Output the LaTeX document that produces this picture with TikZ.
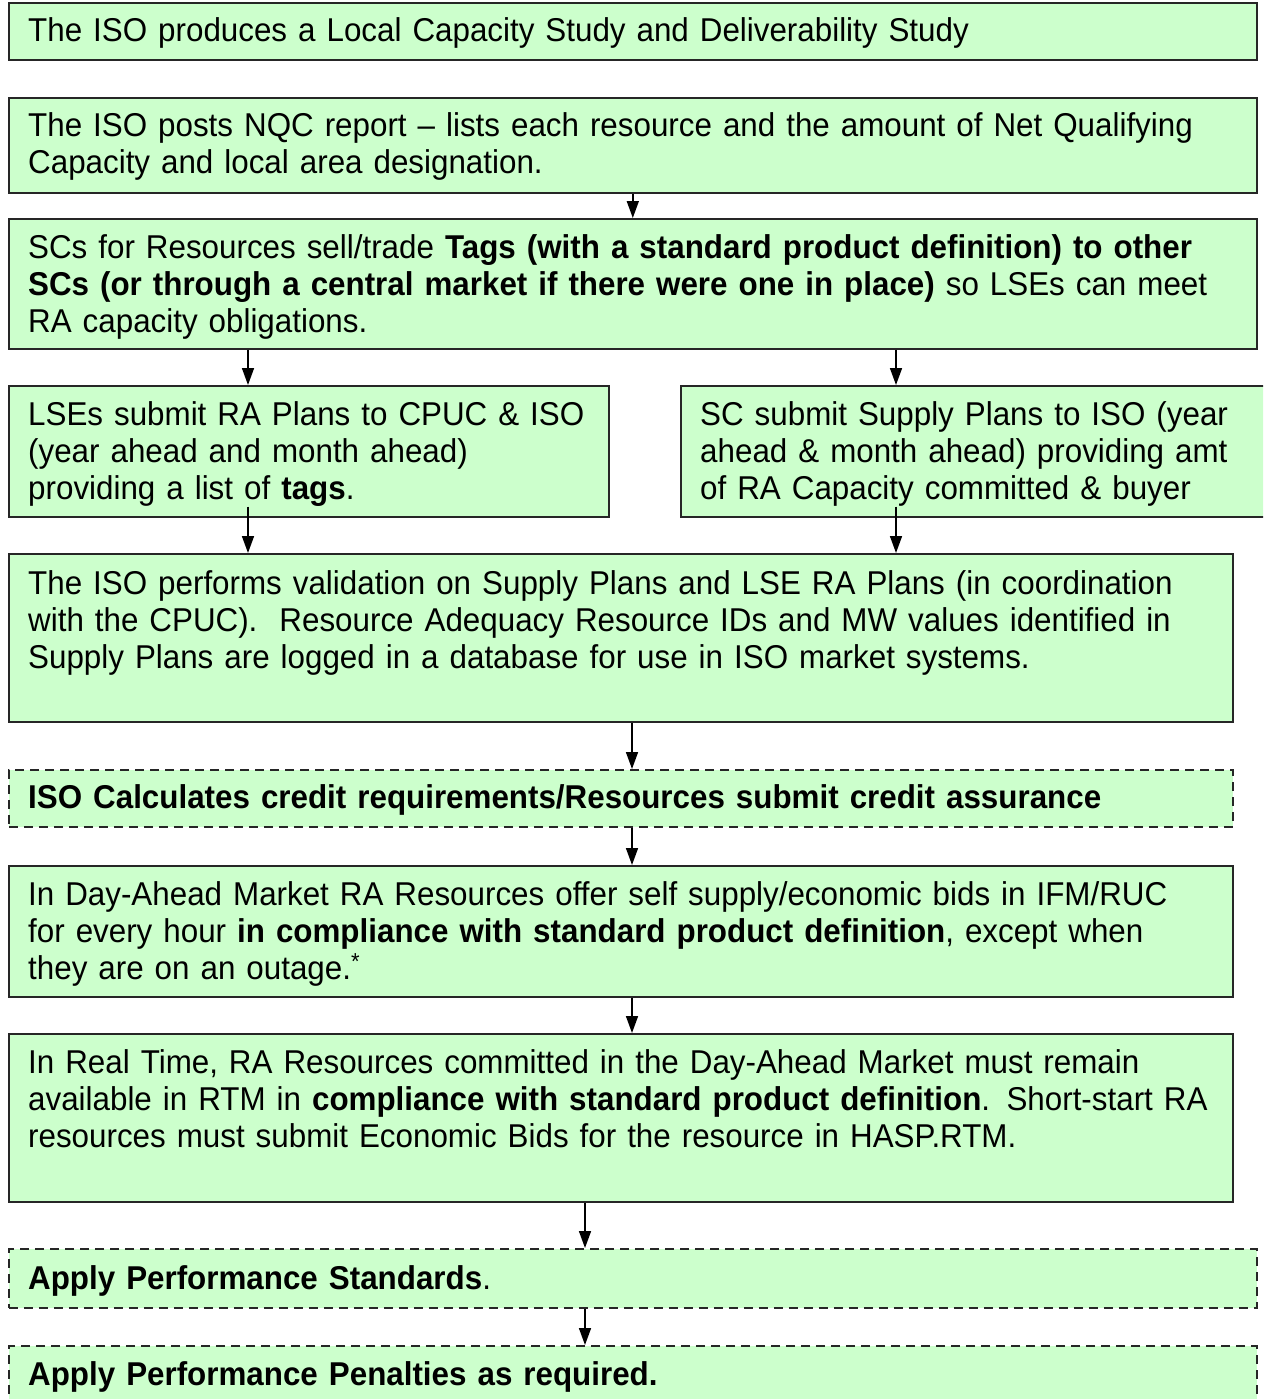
\documentclass[tikz,border=0pt]{standalone}
\usepackage{fontspec}
\setmainfont{Liberation Sans}[FakeStretch=0.95]
\usetikzlibrary{arrows.meta,positioning}
\definecolor{boxgreen}{RGB}{204,255,204}
\tikzset{
  stepbox/.style={draw=black!85, fill=boxgreen, line width=1.6pt, inner sep=0pt, anchor=north west},
  creditbox/.style={stepbox, dash pattern=on 9pt off 6pt},
  steptext/.style={anchor=base west, inner sep=0pt, text width=1300pt, align=left, font=\fontsize{33}{37}\selectfont},
  flow/.style={line width=1.6pt, -{Triangle[length=17pt,width=12pt]}}
}

\begin{document}
\begin{tikzpicture}[x=1pt,y=-1pt]
\useasboundingbox (0,0) rectangle (1263,1399);
\clip (0,0) rectangle (1263,1399);

% boxes
\node[stepbox, minimum width=1248pt, minimum height=57pt] (study) at (8,2) {};
\node[stepbox, minimum width=1248pt, minimum height=95pt] (nqc) at (8,97) {};
\node[stepbox, minimum width=1248pt, minimum height=130pt] (tags) at (8,218) {};
\node[stepbox, minimum width=600pt, minimum height=131pt] (lse) at (8,385) {};
\node[stepbox, minimum width=600pt, minimum height=131pt] (supply) at (680,385) {};
\node[stepbox, minimum width=1224pt, minimum height=168pt] (valid) at (8,553) {};
\node[creditbox, minimum width=1224pt, minimum height=57pt] (credit) at (8,769) {};
\node[stepbox, minimum width=1224pt, minimum height=131pt] (dam) at (8,865) {};
\node[stepbox, minimum width=1224pt, minimum height=168pt] (rtm) at (8,1033) {};
\node[creditbox, minimum width=1248pt, minimum height=59pt] (perf) at (8,1248) {};
\node[creditbox, minimum width=1248pt, minimum height=90pt] (penalty) at (8,1345) {};

% texts
\node[steptext] (study-t) at ([xshift=20pt,yshift=-40pt]study.north west)
  {The ISO produces a Local Capacity Study and Deliverability Study};
\node[steptext] (nqc-t) at ([xshift=20pt,yshift=-40pt]nqc.north west)
  {The ISO posts NQC report -- lists each resource and the amount of Net Qualifying\\
   Capacity and local area designation.};
\node[steptext] (tags-t) at ([xshift=20pt,yshift=-40pt]tags.north west)
  {SCs for Resources sell/trade \textbf{Tags (with a standard product definition) to other}\\
   \textbf{SCs (or through a central market if there were one in place)} so LSEs can meet\\
   RA capacity obligations.};
\node[steptext] (lse-t) at ([xshift=20pt,yshift=-40pt]lse.north west)
  {LSEs submit RA Plans to CPUC \& ISO\\
   (year ahead and month ahead)\\
   providing a list of \textbf{tags}.};
\node[steptext] (supply-t) at ([xshift=20pt,yshift=-40pt]supply.north west)
  {SC submit Supply Plans to ISO (year\\
   ahead \& month ahead) providing amt\\
   of RA Capacity committed \& buyer};
\node[steptext] (valid-t) at ([xshift=20pt,yshift=-41pt]valid.north west)
  {The ISO performs validation on Supply Plans and LSE RA Plans (in coordination\\
   with the CPUC).~ Resource Adequacy Resource IDs and MW values identified in\\
   Supply Plans are logged in a database for use in ISO market systems.};
\node[steptext] (credit-t) at ([xshift=20pt,yshift=-39pt]credit.north west)
  {\textbf{ISO Calculates credit requirements/Resources submit credit assurance}};
\node[steptext] (dam-t) at ([xshift=20pt,yshift=-40pt]dam.north west)
  {In Day-Ahead Market RA Resources offer self supply/economic bids in IFM/RUC\\
   for every hour \textbf{in compliance with standard product definition}, except when\\
   they are on an outage.\textsuperscript{*}};
\node[steptext] (rtm-t) at ([xshift=20pt,yshift=-40pt]rtm.north west)
  {In Real Time, RA Resources committed in the Day-Ahead Market must remain\\
   available in RTM in \textbf{compliance with standard product definition}. Short-start RA\\
   resources must submit Economic Bids for the resource in HASP.RTM.};
\node[steptext] (perf-t) at ([xshift=20pt,yshift=-41pt]perf.north west)
  {\textbf{Apply Performance Standards}.};
\node[steptext] (penalty-t) at ([xshift=20pt,yshift=-40pt]penalty.north west)
  {\textbf{Apply Performance Penalties as required.}};

% arrows
\draw[flow] (nqc.south) -- (tags.north);
\draw[flow] ([xshift=240pt]tags.south west) -- ([xshift=240pt]lse.north west);
\draw[flow] ([xshift=888pt]tags.south west) -- ([xshift=216pt]supply.north west);
\draw[flow] ([xshift=240pt,yshift=11pt]lse.south west) -- ([xshift=240pt]valid.north west);
\draw[flow] ([xshift=216pt,yshift=11pt]supply.south west) -- ([xshift=888pt]valid.north west);
\draw[flow] ([xshift=624pt]valid.south west) -- ([xshift=624pt]credit.north west);
\draw[flow] ([xshift=624pt]credit.south west) -- ([xshift=624pt]dam.north west);
\draw[flow] ([xshift=624pt]dam.south west) -- ([xshift=624pt]rtm.north west);
\draw[flow] ([xshift=577pt]rtm.south west) -- ([xshift=577pt]perf.north west);
\draw[flow] ([xshift=577pt]perf.south west) -- ([xshift=577pt]penalty.north west);
\end{tikzpicture}
\end{document}
